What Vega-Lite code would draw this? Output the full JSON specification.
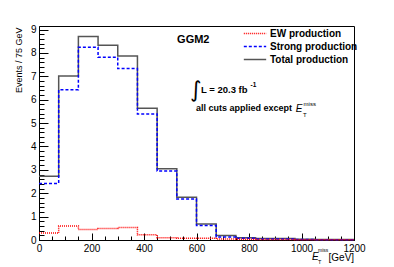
{
  "$schema": "https://vega.github.io/schema/vega-lite/v6.json",
  "width": 315,
  "height": 214,
  "autosize": {"type": "none"},
  "padding": {"left": 39, "top": 26, "right": 40, "bottom": 27},
  "background": "white",
  "config": {
    "font": "Liberation Sans",
    "view": {"stroke": "#000", "strokeWidth": 1},
    "axis": {"labelColor": "#000", "domainColor": "#000", "tickColor": "#000", "grid": false}
  },
  "resolve": {"axis": {"x": "independent", "y": "independent"}},
  "datasets": {
    "hist": [
      {"x": 0, "series": "EW production", "value": 0.30},
      {"x": 75, "series": "EW production", "value": 0.60},
      {"x": 150, "series": "EW production", "value": 0.45},
      {"x": 225, "series": "EW production", "value": 0.49},
      {"x": 300, "series": "EW production", "value": 0.53},
      {"x": 375, "series": "EW production", "value": 0.22},
      {"x": 450, "series": "EW production", "value": 0.10},
      {"x": 525, "series": "EW production", "value": 0.08},
      {"x": 600, "series": "EW production", "value": 0.07},
      {"x": 675, "series": "EW production", "value": 0.04},
      {"x": 750, "series": "EW production", "value": 0.03},
      {"x": 825, "series": "EW production", "value": 0.02},
      {"x": 900, "series": "EW production", "value": 0.02},
      {"x": 975, "series": "EW production", "value": 0.01},
      {"x": 1050, "series": "EW production", "value": 0.01},
      {"x": 1125, "series": "EW production", "value": 0.01},
      {"x": 1200, "series": "EW production", "value": 0.01},
      {"x": 0, "series": "Strong production", "value": 2.42},
      {"x": 75, "series": "Strong production", "value": 6.42},
      {"x": 150, "series": "Strong production", "value": 8.24},
      {"x": 225, "series": "Strong production", "value": 7.81},
      {"x": 300, "series": "Strong production", "value": 7.33},
      {"x": 375, "series": "Strong production", "value": 5.39},
      {"x": 450, "series": "Strong production", "value": 2.95},
      {"x": 525, "series": "Strong production", "value": 1.75},
      {"x": 600, "series": "Strong production", "value": 0.62},
      {"x": 675, "series": "Strong production", "value": 0.13},
      {"x": 750, "series": "Strong production", "value": 0.07},
      {"x": 825, "series": "Strong production", "value": 0.04},
      {"x": 900, "series": "Strong production", "value": 0.04},
      {"x": 975, "series": "Strong production", "value": 0.02},
      {"x": 1050, "series": "Strong production", "value": 0.01},
      {"x": 1125, "series": "Strong production", "value": 0.01},
      {"x": 1200, "series": "Strong production", "value": 0.01},
      {"x": 0, "series": "Total production", "value": 2.73},
      {"x": 75, "series": "Total production", "value": 7.01},
      {"x": 150, "series": "Total production", "value": 8.70},
      {"x": 225, "series": "Total production", "value": 8.33},
      {"x": 300, "series": "Total production", "value": 7.87},
      {"x": 375, "series": "Total production", "value": 5.63},
      {"x": 450, "series": "Total production", "value": 3.05},
      {"x": 525, "series": "Total production", "value": 1.83},
      {"x": 600, "series": "Total production", "value": 0.68},
      {"x": 675, "series": "Total production", "value": 0.19},
      {"x": 750, "series": "Total production", "value": 0.10},
      {"x": 825, "series": "Total production", "value": 0.06},
      {"x": 900, "series": "Total production", "value": 0.06},
      {"x": 975, "series": "Total production", "value": 0.03},
      {"x": 1050, "series": "Total production", "value": 0.02},
      {"x": 1125, "series": "Total production", "value": 0.02},
      {"x": 1200, "series": "Total production", "value": 0.02}
    ],
    "one": [{}]
  },
  "layer": [
    {
      "data": {"name": "hist"},
      "transform": [{"filter": "datum.series === 'Total production'"}],
      "mark": {"type": "line", "interpolate": "step-after", "strokeWidth": 1.5},
      "encoding": {
        "x": {
          "field": "x", "type": "quantitative",
          "scale": {"domain": [0, 1200], "nice": false, "zero": false},
          "axis": {
            "orient": "bottom",
            "title": null,
            "values": [0, 200, 400, 600, 800, 1000, 1200],
            "format": "d",
            "tickSize": -7,
            "labelPadding": 10,
            "labelFontSize": 10,
            "labelFlush": false,
            "labelOverlap": false
          }
        },
        "y": {
          "field": "value", "type": "quantitative",
          "scale": {"domain": [0, 9.15], "nice": false},
          "axis": {
            "orient": "left",
            "title": "Events / 75 GeV",
            "titleX": -21,
            "titleY": 1,
            "titleAngle": 270,
            "titleAlign": "right",
            "titleBaseline": "middle",
            "titleFontSize": 9,
            "titleFontWeight": "normal",
            "titleColor": "#000",
            "values": [0, 1, 2, 3, 4, 5, 6, 7, 8, 9],
            "format": "d",
            "tickSize": -9,
            "labelPadding": 12,
            "labelFontSize": 10,
            "labelFlush": false,
            "labelOverlap": false
          }
        },
        "color": {
          "field": "series", "type": "nominal",
          "scale": {"domain": ["EW production", "Strong production", "Total production"], "range": ["#ff0000", "#0000ff", "#555555"]},
          "legend": {
            "title": null,
            "orient": "none",
            "legendX": 204,
            "legendY": 2,
            "symbolType": "stroke",
            "symbolSize": 500,
            "symbolStrokeWidth": 1.5,
            "labelFontSize": 10,
            "labelFontWeight": "bold",
            "labelColor": "#000",
            "labelOffset": 3,
            "clipHeight": 11,
            "rowPadding": 2,
            "padding": 0
          }
        },
        "strokeDash": {
          "field": "series", "type": "nominal",
          "scale": {"domain": ["EW production", "Strong production", "Total production"], "range": [[1, 1], [3, 2], [1, 0]]},
          "legend": {
            "title": null,
            "orient": "none",
            "legendX": 204,
            "legendY": 2,
            "symbolType": "stroke",
            "symbolSize": 500,
            "symbolStrokeWidth": 1.5,
            "labelFontSize": 10,
            "labelFontWeight": "bold",
            "labelColor": "#000",
            "labelOffset": 3,
            "clipHeight": 11,
            "rowPadding": 2,
            "padding": 0
          }
        }
      }
    },
    {
      "data": {"name": "hist"},
      "transform": [{"filter": "datum.series === 'Strong production'"}],
      "mark": {"type": "line", "interpolate": "step-after", "strokeWidth": 1.5},
      "encoding": {
        "x": {
          "field": "x", "type": "quantitative",
          "axis": {
            "orient": "bottom",
            "title": null,
            "values": [50, 100, 150, 250, 300, 350, 450, 500, 550, 650, 700, 750, 850, 900, 950, 1050, 1100, 1150],
            "labels": false,
            "domain": false,
            "tickSize": -4
          }
        },
        "y": {
          "field": "value", "type": "quantitative",
          "axis": {
            "orient": "left",
            "title": null,
            "values": [0.2, 0.4, 0.6, 0.8, 1.2, 1.4, 1.6, 1.8, 2.2, 2.4, 2.6, 2.8, 3.2, 3.4, 3.6, 3.8, 4.2, 4.4, 4.6, 4.8, 5.2, 5.4, 5.6, 5.8, 6.2, 6.4, 6.6, 6.8, 7.2, 7.4, 7.6, 7.8, 8.2, 8.4, 8.6, 8.8, 9.2],
            "labels": false,
            "domain": false,
            "tickSize": -5
          }
        },
        "color": {"field": "series", "type": "nominal", "scale": {"domain": ["EW production", "Strong production", "Total production"], "range": ["#ff0000", "#0000ff", "#555555"]}},
        "strokeDash": {"field": "series", "type": "nominal", "scale": {"domain": ["EW production", "Strong production", "Total production"], "range": [[1, 1], [3, 2], [1, 0]]}}
      }
    },
    {
      "data": {"name": "hist"},
      "transform": [{"filter": "datum.series === 'EW production'"}],
      "mark": {"type": "line", "interpolate": "step-after", "strokeWidth": 1.5},
      "encoding": {
        "x": {"field": "x", "type": "quantitative", "axis": null},
        "y": {"field": "value", "type": "quantitative", "axis": null},
        "color": {"field": "series", "type": "nominal", "scale": {"domain": ["EW production", "Strong production", "Total production"], "range": ["#ff0000", "#0000ff", "#555555"]}},
        "strokeDash": {"field": "series", "type": "nominal", "scale": {"domain": ["EW production", "Strong production", "Total production"], "range": [[1, 1], [3, 2], [1, 0]]}}
      }
    },
    {
      "data": {"name": "one"},
      "mark": {"type": "text", "text": "GGM2", "fontSize": 11, "fontWeight": "bold", "align": "left", "baseline": "middle", "color": "#000"},
      "encoding": {"x": {"datum": 526, "type": "quantitative", "axis": null}, "y": {"datum": 8.55, "type": "quantitative", "axis": null}}
    },
    {
      "data": {"name": "one"},
      "mark": {"type": "text", "text": "∫", "fontSize": 22, "align": "left", "baseline": "middle", "color": "#000", "font": "DejaVu Sans"},
      "encoding": {"x": {"datum": 575, "type": "quantitative", "axis": null}, "y": {"datum": 6.43, "type": "quantitative", "axis": null}}
    },
    {
      "data": {"name": "one"},
      "mark": {"type": "text", "text": "L = 20.3 fb", "fontSize": 9.5, "fontWeight": "bold", "align": "left", "baseline": "middle", "color": "#000"},
      "encoding": {"x": {"datum": 617, "type": "quantitative", "axis": null}, "y": {"datum": 6.41, "type": "quantitative", "axis": null}}
    },
    {
      "data": {"name": "one"},
      "mark": {"type": "text", "text": "-1", "fontSize": 6.5, "fontWeight": "bold", "align": "left", "baseline": "middle", "color": "#000"},
      "encoding": {"x": {"datum": 806, "type": "quantitative", "axis": null}, "y": {"datum": 6.62, "type": "quantitative", "axis": null}}
    },
    {
      "data": {"name": "one"},
      "mark": {"type": "text", "text": "all cuts applied except", "fontSize": 9, "fontWeight": "bold", "align": "left", "baseline": "middle", "color": "#000"},
      "encoding": {"x": {"datum": 598, "type": "quantitative", "axis": null}, "y": {"datum": 5.64, "type": "quantitative", "axis": null}}
    },
    {
      "data": {"name": "one"},
      "mark": {"type": "text", "text": "E", "fontSize": 10, "fontStyle": "italic", "align": "left", "baseline": "middle", "color": "#000"},
      "encoding": {"x": {"datum": 978, "type": "quantitative", "axis": null}, "y": {"datum": 5.62, "type": "quantitative", "axis": null}}
    },
    {
      "data": {"name": "one"},
      "mark": {"type": "text", "text": "T", "fontSize": 6, "align": "left", "baseline": "middle", "color": "#000"},
      "encoding": {"x": {"datum": 1006, "type": "quantitative", "axis": null}, "y": {"datum": 5.33, "type": "quantitative", "axis": null}}
    },
    {
      "data": {"name": "one"},
      "mark": {"type": "text", "text": "miss", "fontSize": 6, "align": "left", "baseline": "middle", "color": "#000"},
      "encoding": {"x": {"datum": 1008, "type": "quantitative", "axis": null}, "y": {"datum": 5.8, "type": "quantitative", "axis": null}}
    },
    {
      "data": {"name": "one"},
      "mark": {"type": "text", "text": "E", "fontSize": 10, "fontStyle": "italic", "align": "left", "baseline": "middle", "color": "#000"},
      "encoding": {"x": {"datum": 1040, "type": "quantitative", "axis": null}, "y": {"datum": -0.73, "type": "quantitative", "axis": null}}
    },
    {
      "data": {"name": "one"},
      "mark": {"type": "text", "text": "T", "fontSize": 5.5, "align": "left", "baseline": "middle", "color": "#000"},
      "encoding": {"x": {"datum": 1063, "type": "quantitative", "axis": null}, "y": {"datum": -0.92, "type": "quantitative", "axis": null}}
    },
    {
      "data": {"name": "one"},
      "mark": {"type": "text", "text": "miss", "fontSize": 5, "align": "left", "baseline": "middle", "color": "#000"},
      "encoding": {"x": {"datum": 1063, "type": "quantitative", "axis": null}, "y": {"datum": -0.43, "type": "quantitative", "axis": null}}
    },
    {
      "data": {"name": "one"},
      "mark": {"type": "text", "text": "[GeV]", "fontSize": 10, "align": "left", "baseline": "middle", "color": "#000"},
      "encoding": {"x": {"datum": 1103, "type": "quantitative", "axis": null}, "y": {"datum": -0.75, "type": "quantitative", "axis": null}}
    }
  ]
}
